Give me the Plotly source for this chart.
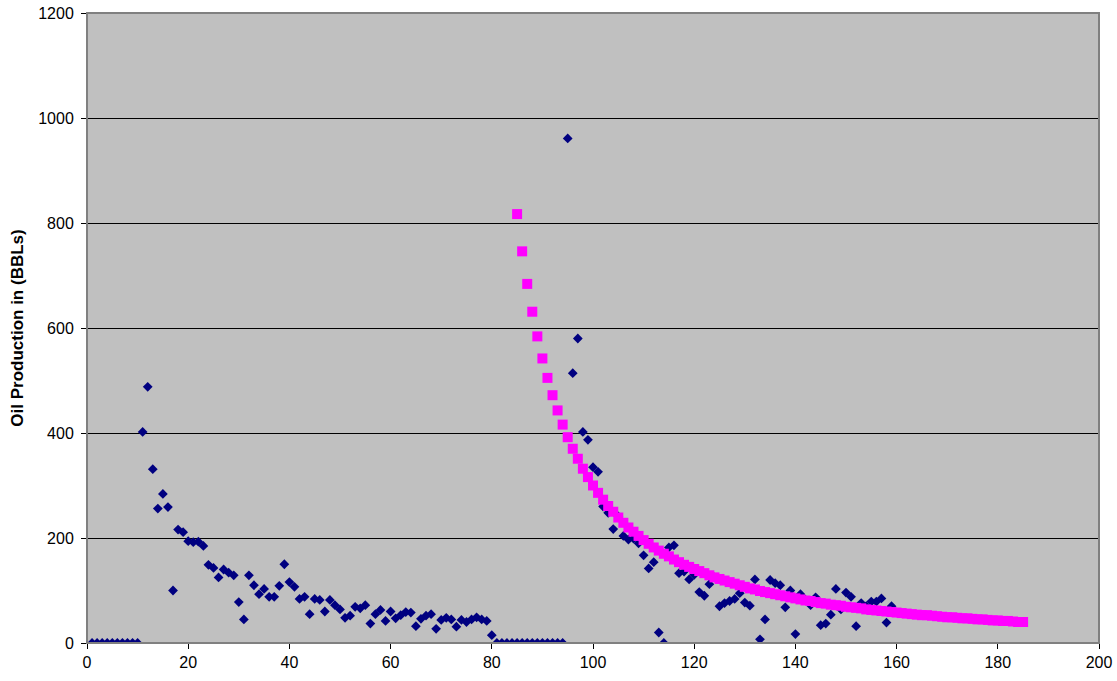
import plotly.graph_objects as go

months = list(range(1, 160))
oil_actual = [0, 0, 0, 0, 0, 0, 0, 0, 0, 0,
              402, 488, 331, 256, 284, 259, 100, 216, 211, 194,
              192, 193, 185, 149, 143, 125, 140, 134, 129, 78,
              45, 129, 110, 93, 103, 88, 88, 109, 150, 116,
              107, 84, 88, 55, 84, 82, 60, 82, 72, 64,
              48, 52, 69, 66, 72, 37, 55, 63, 42, 60,
              47, 53, 59, 58, 32, 46, 52, 55, 27, 44,
              48, 45, 31, 44, 40, 45, 49, 45, 42, 15,
              0, 0, 0, 0, 0, 0, 0, 0, 0, 0,
              0, 0, 0, 0, 961, 514, 580, 402, 387, 335,
              326, 260, 248, 217, 241, 204, 197, 199, 190, 167,
              142, 154, 20, 0, 182, 186, 133, 136, 121, 130,
              97, 90, 112, 125, 70, 76, 80, 84, 95, 77,
              71, 121, 7, 45, 120, 114, 110, 68, 100, 17,
              93, 82, 72, 87, 34, 37, 54, 103, 64, 96,
              88, 32, 76, 70, 79, 79, 85, 39, 70]

fit_months = list(range(85, 186))
oil_fit = [817, 746, 684, 631, 584, 542, 505, 472, 443, 416, 392, 370, 351, 332, 316,
           300, 286, 273, 261, 250, 239, 229, 220, 212, 204, 196, 189, 182, 176, 170,
           165, 159, 154, 149, 145, 141, 137, 133, 129, 125, 122, 119, 116, 113, 110,
           107, 104, 102, 99, 97, 95, 93, 91, 89, 87, 85, 83, 81, 80, 78, 76, 75, 73,
           72, 71, 69, 68, 67, 66, 64, 63, 62, 61, 60, 59, 58, 57, 56, 55, 54, 53, 53,
           52, 51, 50, 49, 49, 48, 47, 47, 46, 45, 45, 44, 43, 43, 42, 42, 41, 40, 40]

x_ticks = list(range(0, 201, 20))
y_ticks = list(range(0, 1201, 200))

fig = go.Figure()
fig.add_trace(go.Scatter(x=months, y=oil_actual, mode="markers",
                         marker=dict(symbol="diamond", size=7.5, color="#000080"),
                         showlegend=False))
fig.add_trace(go.Scatter(x=fit_months, y=oil_fit, mode="markers",
                         marker=dict(symbol="square", size=10, color="#FF00FF"),
                         showlegend=False))
fig.update_layout(
    width=1117, height=681, autosize=False,
    margin=dict(l=87, r=18, t=13, b=38, pad=0, autoexpand=False),
    paper_bgcolor="white", plot_bgcolor="#C0C0C0",
    font=dict(family="Liberation Sans, Arial", size=16, color="black"),
    shapes=[dict(type="rect", xref="paper", yref="paper", x0=0, y0=0, x1=1, y1=1,
                 line=dict(color="#808080", width=2), layer="above")],
)
fig.update_xaxes(range=[0, 200], tickmode="array", tickvals=x_ticks, automargin=False,
                 showgrid=False, zeroline=False, showline=True, linecolor="black",
                 linewidth=1, ticks="outside", ticklen=5, tickcolor="black",
                 tickfont=dict(size=16))
fig.update_yaxes(range=[0, 1200], tickmode="array", tickvals=y_ticks, automargin=False,
                 showgrid=True, gridcolor="black", gridwidth=1, zeroline=False,
                 showline=True, linecolor="#808080", linewidth=1,
                 ticks="outside", ticklen=5, tickcolor="black",
                 tickfont=dict(size=16), ticklabelstandoff=4,
                 title=dict(text="<b>Oil Production in (BBLs)</b>", font=dict(size=17),
                            standoff=10))
fig.write_html("out.html", config={"displayModeBar": False},
               post_script="document.body.style.margin='0';document.body.style.overflow='hidden';")
